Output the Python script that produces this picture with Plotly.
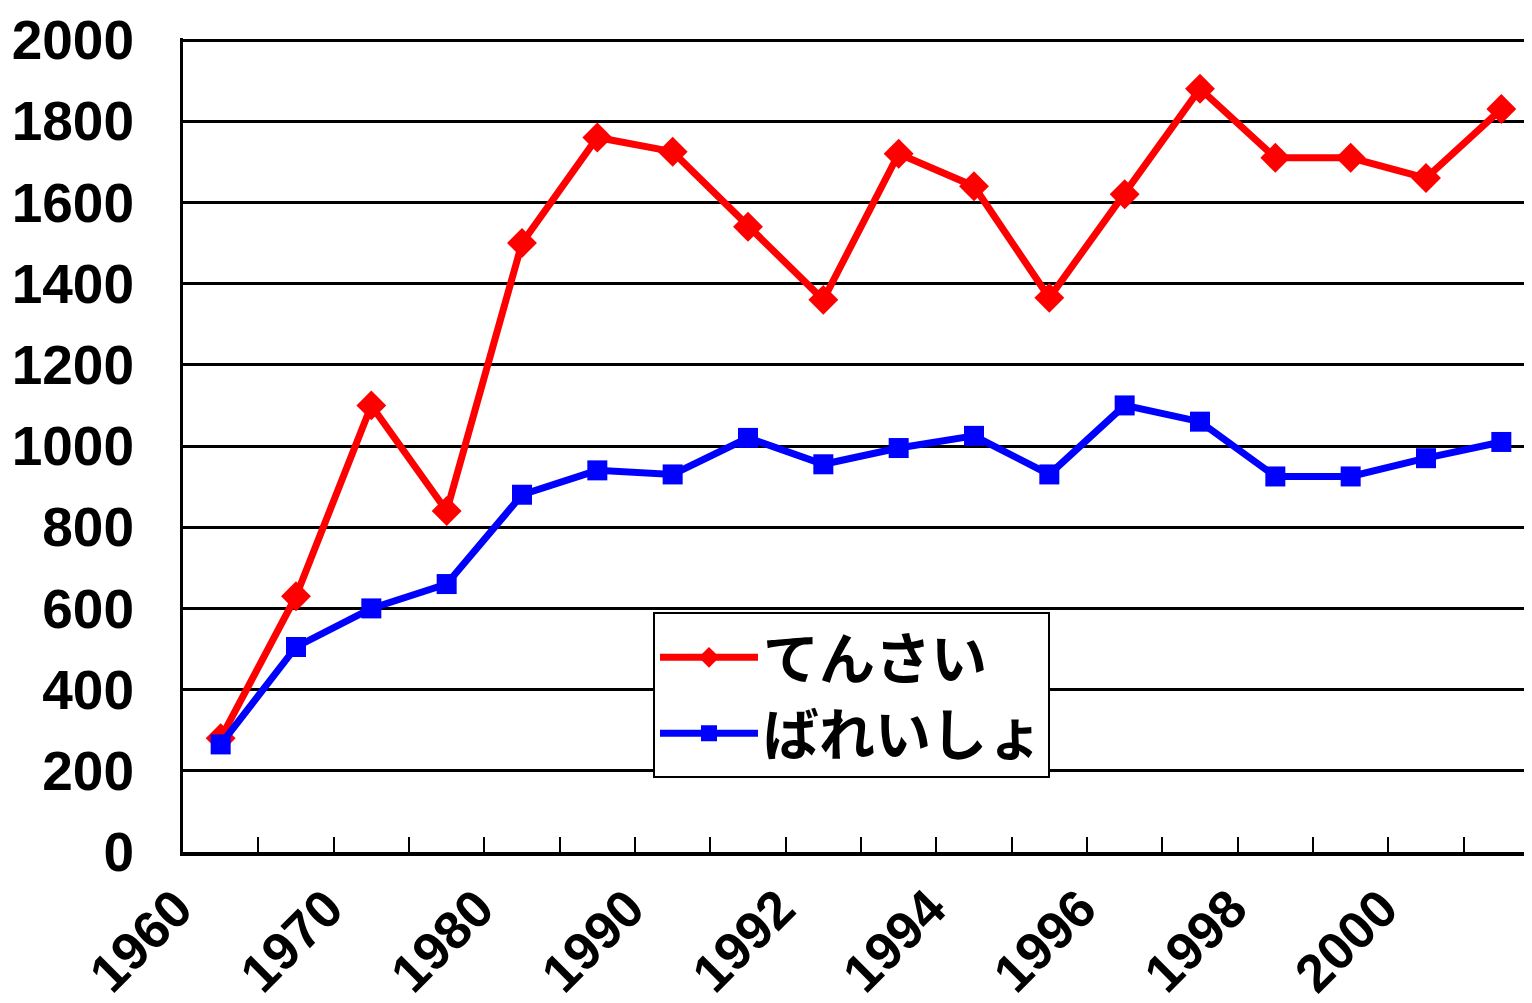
import plotly.graph_objects as go

categories = ["1960", "1965", "1970", "1975", "1980", "1985", "1990", "1991", "1992",
              "1993", "1994", "1995", "1996", "1997", "1998", "1999", "2000", "2001"]
tick_labels = ["1960", "", "1970", "", "1980", "", "1990", "", "1992",
               "", "1994", "", "1996", "", "1998", "", "2000", ""]
tensai = [280, 630, 1100, 840, 1500, 1760, 1725, 1540, 1360,
          1720, 1640, 1365, 1620, 1880, 1710, 1710, 1660, 1830]
bareisho = [265, 505, 600, 660, 880, 940, 930, 1020, 955,
            995, 1025, 930, 1100, 1060, 925, 925, 970, 1010]
series_names = ["てんさい", "ばれいしょ"]

fig = go.Figure()
fig.add_trace(go.Scatter(
    x=categories, y=tensai, name=series_names[0], mode="lines+markers",
    line=dict(color="#FF0000", width=7),
    marker=dict(symbol="diamond", size=23, color="#FF0000"),
))
fig.add_trace(go.Scatter(
    x=categories, y=bareisho, name=series_names[1], mode="lines+markers",
    line=dict(color="#0000FF", width=7),
    marker=dict(symbol="square", size=20, color="#0000FF"),
))

fig.update_layout(
    width=1531, height=995,
    margin=dict(l=175, r=0, t=30, b=151, autoexpand=False),
    paper_bgcolor="white", plot_bgcolor="white",
    font=dict(family="Liberation Sans", color="black"),
    showlegend=True,
    legend=dict(
        x=0.3466, y=0.2943, xanchor="left", yanchor="top",
        bgcolor="white", bordercolor="black", borderwidth=2,
        font=dict(family="Noto Sans CJK JP", size=56, color="black", weight="bold"),
        itemwidth=98,
    ),
    xaxis=dict(
        type="category", automargin=False,
        tickmode="array", tickvals=categories, ticktext=tick_labels,
        tickson="boundaries",
        ticks="inside", ticklen=15, tickwidth=2, tickcolor="black",
        tickangle=-45,
        tickfont=dict(family="Liberation Sans", size=53, color="black", weight="bold"),
        ticklabelshift=-44, ticklabelstandoff=0,
        showline=True, linecolor="black", linewidth=4,
        showgrid=False, zeroline=False,
        range=[-0.5, 17.5],
    ),
    yaxis=dict(
        automargin=False,
        range=[0, 2005], tickmode="linear", tick0=0, dtick=200,
        ticks="inside", ticklen=15, tickwidth=3, tickcolor="black",
        tickfont=dict(family="Liberation Sans", size=55, color="black", weight="bold"),
        ticklabelstandoff=35,
        showline=True, linecolor="black", linewidth=3,
        showgrid=True, gridcolor="black", gridwidth=2.5,
        zeroline=False,
    ),
)

fig.write_html("out.html")
